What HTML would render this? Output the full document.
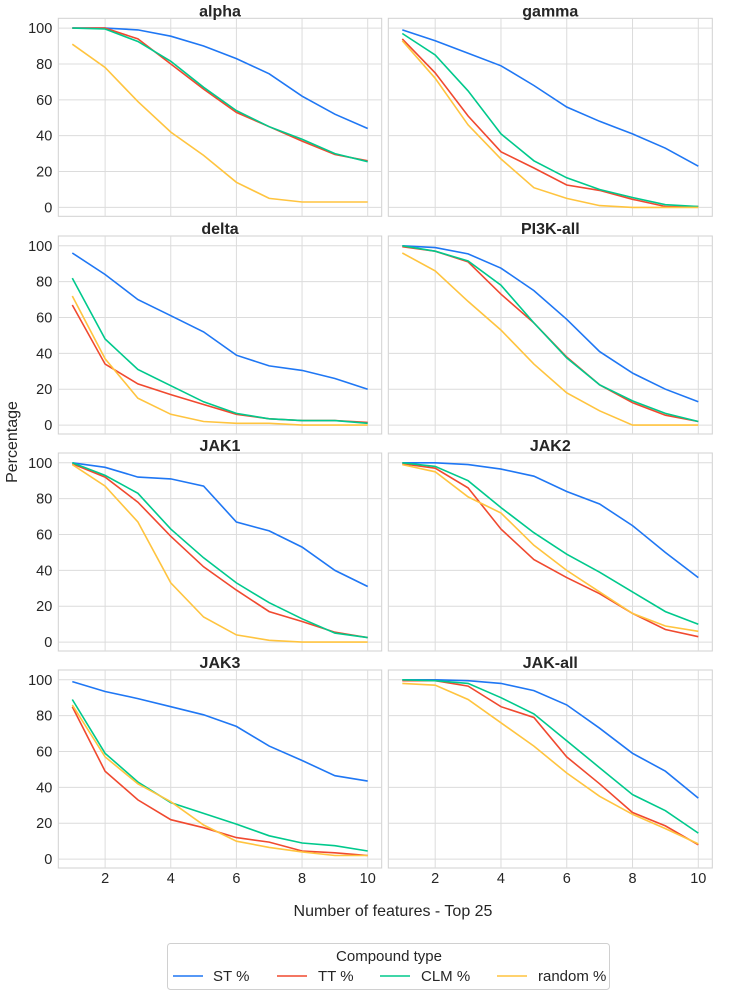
<!DOCTYPE html>
<html><head><meta charset="utf-8"><style>
body{margin:0;background:#fff;}
svg text{font-family:"Liberation Sans",Arial,sans-serif;fill:#262626;}
</style></head><body>
<svg id="chart" width="732" height="998" xmlns="http://www.w3.org/2000/svg"></svg>
<script>
const xValues=[1,2,3,4,5,6,7,8,9,10];
const panelTitles=["alpha","gamma","delta","PI3K-all","JAK1","JAK2","JAK3","JAK-all"];
const seriesNames=["ST %","TT %","CLM %","random %"];
const stValues=[[100,100,99,95.5,90,83,74.5,62,52,44],[99,93,86,79,68,56,48,41,33,23],[96,84,70,61,52,39,33,30.5,26,20],[100,99,95.5,87.5,75,59,41,29,20,13],[100,97.5,92,91,87,67,62,53,40,31],[100,100,99,96.5,92.5,84,77,65,50,36],[99,93.5,89.5,85,80.5,74,63,55,46.5,43.5],[100,100,99.5,98,94,86,73,59,49,34]];
const ttValues=[[100,100,94,80,66,53,45,37,29.5,26],[94,75,51,31,22,12.5,9.5,4.5,0.5,0.5],[67,34,23,17,11.5,6,3.5,2.5,2.5,1.5],[99.5,97,91,73,57,38,22.5,12.5,5.5,2],[99.5,92,78,59,42,29,17,11.5,5.5,2.5],[99.5,97,86,63,46,36,27,16,7,3],[85,49,33,22,17.5,12,9.5,4.5,3.5,2],[99.5,99.5,96.5,85,79,57,42,26,18.5,8]];
const clmValues=[[100,99.5,92.5,81.5,67,54,45,38,30,25.5],[97,85,65,41,26,16.5,10,5.5,1.5,0.5],[82,48,31,22,13,6.5,3.5,2.5,2.5,1],[100,97,91.5,78,57,37.5,22.5,13.5,6.5,2],[100,93,83,63,47,33,22,13,5,2.5],[100,98,90,75,61,49,39,28,17,10],[89,59,43,31.5,25.5,19.5,13,9,7.5,4.5],[100,99.5,98,90,81,66,51,36,27,14.5]];
const randomValues=[[91,78,59,42,29,14,5,3,3,3],[93,72,46,27,11,5,1,0,0,0],[72,37,15,6,2,1,1,0,0,0],[96,86,69,53,34,18,8,0,0,0],[99,87,67,33,14,4,1,0,0,0],[99,95,81,72,54,40,28,16,9,6],[86,57,42,32,19,10,6.5,4,2,2],[98,97,89,76,63,48,35,25,17,8.5]];
const yTicks=[0,20,40,60,80,100];
const xTicks=[2,4,6,8,10];
const colors=["#1f77f4","#f0492f","#00c98c","#ffc43f"];
const allSeries=[stValues,ttValues,clmValues,randomValues];
const NS="http://www.w3.org/2000/svg";
const svg=document.getElementById('chart');
function mk(tag,attrs,parent){const e=document.createElementNS(NS,tag);for(const k in attrs)e.setAttribute(k,attrs[k]);(parent||svg).appendChild(e);return e;}
const colX=[58.3,388.3],colW=[323.4,324],rowY=[18.3,236,453,670],H=198;
panelTitles.forEach((t,i)=>{
  const c=i%2,r=Math.floor(i/2);
  const L=colX[c],T=rowY[r],W=colW[c];
  const g=mk('g',{});
  
  
  const xs=v=>L+14+(v-1)*(W-28)/9;
  const ys=v=>T+H-8.9-v*1.793;
  mk('rect',{x:L,y:T,width:W,height:H,fill:'#fff',stroke:'#d0d0d0','stroke-width':1},g);
  yTicks.forEach(v=>{mk('line',{x1:L,x2:L+W,y1:ys(v),y2:ys(v),stroke:'#dcdcdc','stroke-width':1},g);
    if(c===0){const tx=mk('text',{x:L-6,y:ys(v)+5,'text-anchor':'end','font-size':14.5},g);tx.textContent=v;
      
      }});
  xTicks.forEach(v=>{mk('line',{x1:xs(v),x2:xs(v),y1:T,y2:T+H,stroke:'#dcdcdc','stroke-width':1},g);
    if(r===3){const tx=mk('text',{x:xs(v),y:T+H+15,'text-anchor':'middle','font-size':14.5},g);tx.textContent=v;
      
      }});
  const tt=mk('text',{x:L+W/2,y:T-2,'text-anchor':'middle','font-size':16,'font-weight':'bold'},g);tt.textContent=t;
  
  
  allSeries.forEach((s,k)=>{
    const d=s[i].map((v,j)=>(j?'L':'M')+xs(xValues[j]).toFixed(1)+','+ys(v).toFixed(1)).join('');
    const p=mk('path',{d:d,fill:'none',stroke:colors[k],'stroke-width':1.6},g);
    
    
  });
});
</script>
<svg style="position:absolute;left:0;top:0" width="732" height="998" xmlns="http://www.w3.org/2000/svg">
<text x="17" y="442" text-anchor="middle" font-size="16" transform="rotate(-90 17 442)">Percentage</text>
<text x="393" y="916" text-anchor="middle" font-size="16">Number of features - Top 25</text>
<g>
<rect x="167.5" y="943.5" width="442" height="46" rx="3" fill="#fff" stroke="#d0d0d0"/>
<text x="389" y="961" text-anchor="middle" font-size="15">Compound type</text>
<line x1="173" x2="203" y1="976" y2="976" stroke="#1f77f4" stroke-width="1.6"/>
<text x="213" y="981" font-size="15">ST %</text>
<line x1="277" x2="307" y1="976" y2="976" stroke="#f0492f" stroke-width="1.6"/>
<text x="318" y="981" font-size="15">TT %</text>
<line x1="380" x2="410" y1="976" y2="976" stroke="#00c98c" stroke-width="1.6"/>
<text x="421" y="981" font-size="15">CLM %</text>
<line x1="497" x2="527" y1="976" y2="976" stroke="#ffc43f" stroke-width="1.6"/>
<text x="538" y="981" font-size="15">random %</text>
</g>
</svg>
</body></html>
